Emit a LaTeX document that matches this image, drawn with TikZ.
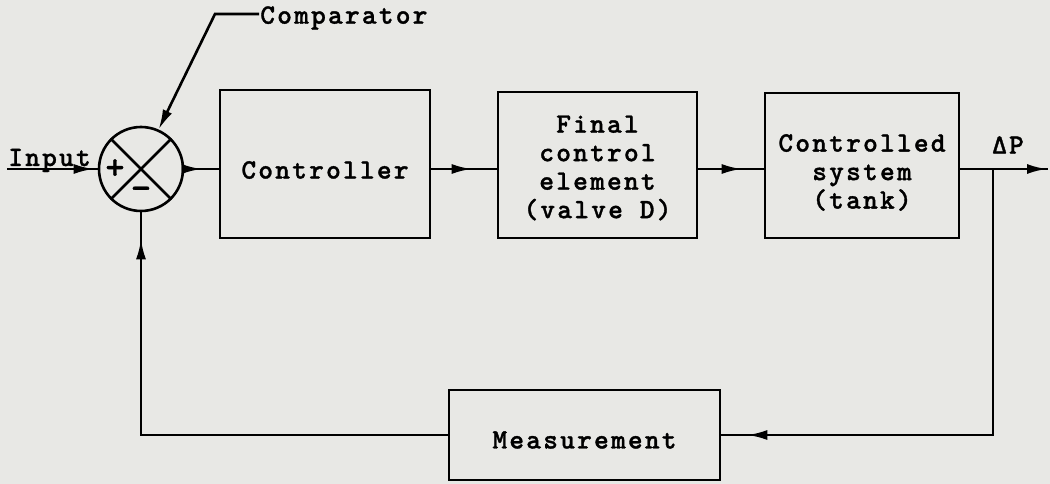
\documentclass[tikz,border=0pt]{standalone}
\usepackage{fontspec}
\setmainfont{lmmonolt10-bold}[Extension=.otf,LetterSpace=8,FakeBold=1.2]
\usetikzlibrary{arrows.meta,decorations.markings}
\definecolor{paper}{RGB}{232,232,229}

\begin{document}
\begin{tikzpicture}[x=1pt,y=-1pt,line width=2.6pt,>={Latex[length=20pt,width=10pt]},
  every node/.style={font=\fontsize{28}{28.5}\selectfont},
  block/.style={draw,rectangle,inner sep=0pt,line width=2.6pt},
  btext/.style={align=center,inner sep=0pt},
  sign/.style={inner sep=0pt,font=\fontsize{36}{36}\selectfont},
  tipat/.style={postaction={decorate,decoration={markings,
    mark=at position -#1 with {\arrow{>}}}}}]
\fill[paper] (0,0) rectangle (1050,484);
\useasboundingbox (0,0) rectangle (1050,484);
% forward path
\node[draw,circle,minimum size=84pt,inner sep=0pt] (cmp) at (141,169) {};
\draw (cmp.north west) -- (cmp.south east); \draw (cmp.north east) -- (cmp.south west);
\node[sign] (plus) at ([xshift=-26pt]cmp.center) {+};
\node[sign] (minus) at ([yshift=-24pt]cmp.center) {−};
\node[block,minimum width=210pt,minimum height=148pt] (ctl) at (325,164) {};
\node[block,minimum width=199pt,minimum height=146pt] (fce) at (597.5,165) {};
\node[block,minimum width=194pt,minimum height=145pt] (sys) at (862,165.5) {};
\node[block,minimum width=271pt,minimum height=90pt] (meas) at (584.5,435) {};
\node[btext] (ctltxt) at ([yshift=-6pt]ctl.center) {Controller};
\node[btext] (fcetxt) at ([yshift=-3pt]fce.center) {Final\\control\\element\\(valve D)};
\node[btext] (systxt) at ([yshift=-7pt]sys.center) {Controlled\\system\\(tank)};
\node[btext] (meastxt) at ([yshift=-5pt]meas.center) {Measurement};
\coordinate (in) at (7,169); \coordinate (out) at (1048,169); \coordinate (br) at (993,169);
\node[anchor=base west,inner sep=0pt] (inlbl) at (7,166) {Input};
\node (dp) at (1008,145) {ΔP};
\draw[tipat=4pt] (in) -- (cmp.west);
\draw[tipat=17pt] (cmp.east) -- (cmp.east -| ctl.west);
\draw[tipat=25pt] (cmp.east -| ctl.east) -- (cmp.east -| fce.west);
\draw[tipat=22pt] (cmp.east -| fce.east) -- (cmp.east -| sys.west);
\draw[tipat=1pt] (cmp.east -| sys.east) -- (out);
% feedback loop
\draw[tipat=26pt] (br) |- (meas.east);
\draw[tipat=27pt] (meas.west) -| (cmp.south);
% label
\coordinate (knee) at (215,14);
\node[anchor=west,inner sep=0pt] (cmplbl) at (259,18) {Comparator};
\draw[->] (knee -| cmplbl.west) -- (knee) -- (cmp.66);
\end{tikzpicture}
\end{document}
